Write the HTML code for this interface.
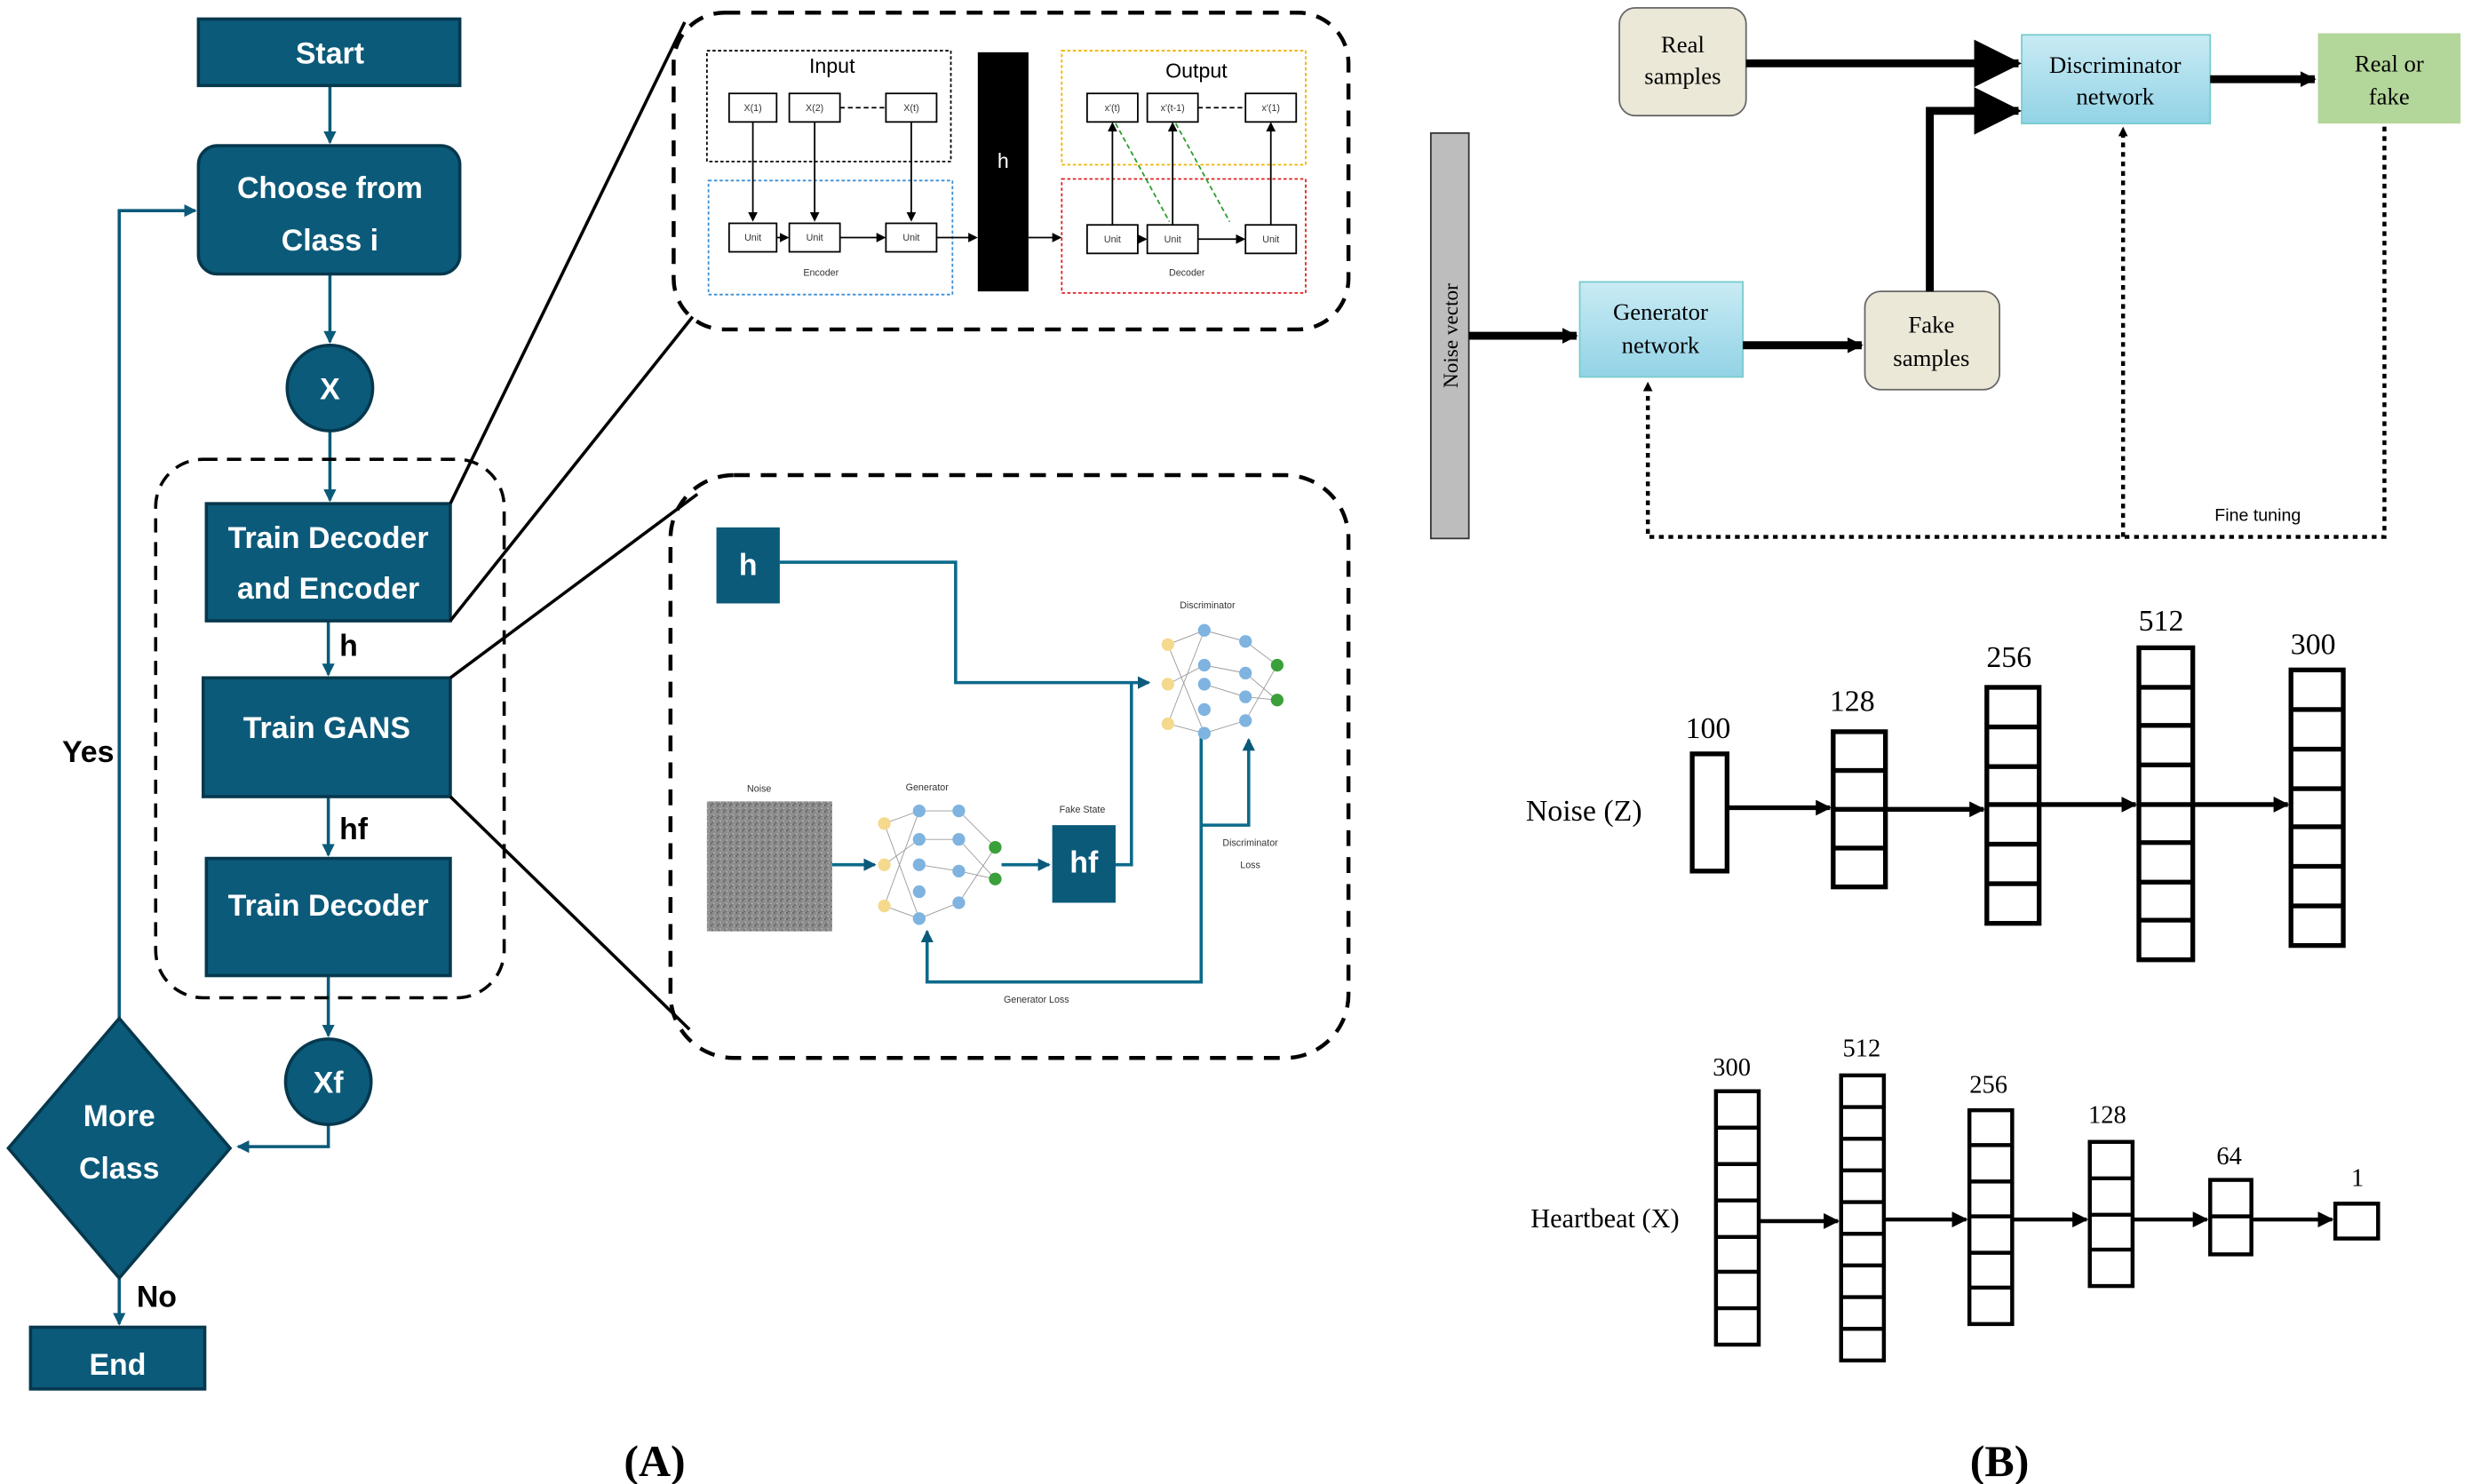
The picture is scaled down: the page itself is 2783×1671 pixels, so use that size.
<!DOCTYPE html>
<html><head><meta charset="utf-8"><style>
html,body{margin:0;padding:0;background:#fff}
svg{display:block}
.ft{font-family:"Liberation Sans",sans-serif;font-weight:bold;fill:#fff;font-size:19px;text-anchor:middle}
.bl{font-family:"Liberation Sans",sans-serif;font-weight:bold;fill:#000;font-size:19px}
.sr{font-family:"Liberation Serif",serif;fill:#000}
.sm{font-family:"Liberation Sans",sans-serif;fill:#333;font-size:6px;text-anchor:middle}
</style></head><body>
<svg width="2783" height="1671" viewBox="0 0 1560 937" xmlns="http://www.w3.org/2000/svg">
<defs>
<marker id="a" markerWidth="8" markerHeight="8" refX="7" refY="4" orient="auto" markerUnits="userSpaceOnUse"><path d="M0,0 L8,4 L0,8 z" fill="#0b5a7a"/></marker>
<marker id="k" markerWidth="10" markerHeight="10" refX="9" refY="5" orient="auto" markerUnits="userSpaceOnUse"><path d="M0,0 L10,5 L0,10 z" fill="#000"/></marker>
<marker id="kb" markerWidth="30" markerHeight="30" refX="28" refY="15" orient="auto" markerUnits="userSpaceOnUse"><path d="M0,0 L30,15 L0,30 z" fill="#000"/></marker>
<marker id="ks" markerWidth="6" markerHeight="6" refX="5" refY="3" orient="auto" markerUnits="userSpaceOnUse"><path d="M0,0 L6,3 L0,6 z" fill="#000"/></marker>
<linearGradient id="lb" x1="0" y1="0" x2="0" y2="1"><stop offset="0" stop-color="#c9ebf4"/><stop offset="1" stop-color="#92d3e6"/></linearGradient>
<pattern id="nz" width="4" height="4" patternUnits="userSpaceOnUse"><rect width="4" height="4" fill="#8c8c8c"/><rect width="1" height="1" fill="#5a5a5a"/><rect x="2" y="2" width="1" height="1" fill="#b0b0b0"/><rect x="3" y="0" width="1" height="1" fill="#a5a5a5"/><rect x="1" y="3" width="1" height="1" fill="#666"/></pattern>
</defs>
<!-- flowchart -->
<g stroke="#0b5a7a" stroke-width="2" fill="none">
<line x1="208" y1="54" x2="208" y2="90" marker-end="url(#a)"/>
<line x1="208" y1="173" x2="208" y2="216" marker-end="url(#a)"/>
<line x1="208" y1="272" x2="208" y2="316" marker-end="url(#a)"/>
<line x1="207" y1="392" x2="207" y2="426" marker-end="url(#a)"/>
<line x1="207" y1="503" x2="207" y2="540" marker-end="url(#a)"/>
<line x1="207" y1="616" x2="207" y2="654" marker-end="url(#a)"/>
<polyline points="207,710 207,724 150,724" marker-end="url(#a)"/>
<polyline points="75,643 75,133 123,133" marker-end="url(#a)"/>
<line x1="75" y1="807" x2="75" y2="836" marker-end="url(#a)"/>
</g>
<rect x="98" y="290" width="220" height="340" rx="30" fill="none" stroke="#000" stroke-width="2" stroke-dasharray="9,6"/>
<g fill="#0b5a7a" stroke="#06384d" stroke-width="2">
<rect x="125" y="12" width="165" height="42"/>
<rect x="125" y="92" width="165" height="81" rx="12"/>
<circle cx="208" cy="245" r="27"/>
<rect x="130" y="318" width="154" height="74"/>
<rect x="128" y="428" width="156" height="75"/>
<rect x="130" y="542" width="154" height="74"/>
<circle cx="207" cy="683" r="27"/>
<polygon points="75,643 145,725 75,807 5,725"/>
<rect x="19" y="838" width="110" height="39"/>
</g>
<text class="ft" x="208" y="40">Start</text>
<text class="ft" x="208" y="125">Choose from</text>
<text class="ft" x="208" y="158">Class i</text>
<text class="ft" x="208" y="252">X</text>
<text class="ft" x="207" y="346">Train Decoder</text>
<text class="ft" x="207" y="378">and Encoder</text>
<text class="ft" x="206" y="466">Train GANS</text>
<text class="ft" x="207" y="578">Train Decoder</text>
<text class="ft" x="207" y="690">Xf</text>
<text class="ft" x="75" y="711">More</text>
<text class="ft" x="75" y="744">Class</text>
<text class="ft" x="74" y="868">End</text>
<text class="bl" x="214" y="414">h</text>
<text class="bl" x="214" y="530">hf</text>
<text class="bl" x="39" y="481">Yes</text>
<text class="bl" x="86" y="825">No</text>
<!-- zoom lines -->
<g stroke="#000" stroke-width="2">
<line x1="284" y1="318" x2="432" y2="14"/>
<line x1="284" y1="392" x2="437" y2="200"/>
<line x1="284" y1="428" x2="440" y2="312"/>
<line x1="284" y1="503" x2="435" y2="650"/>
</g>
<rect x="425" y="8" width="426" height="200" rx="32" fill="none" stroke="#000" stroke-width="2.5" stroke-dasharray="10,7"/>
<rect x="423" y="300" width="428" height="368" rx="40" fill="none" stroke="#000" stroke-width="2.5" stroke-dasharray="10,7"/>
<!-- panel 1 -->
<rect x="446" y="32" width="154" height="70" fill="none" stroke="#000" stroke-dasharray="2,1.5"/>
<rect x="447" y="114" width="154" height="72" fill="none" stroke="#3a8fd6" stroke-dasharray="2,1.5"/>
<rect x="670" y="32" width="154" height="72" fill="none" stroke="#f0b400" stroke-dasharray="2,1.5"/>
<rect x="670" y="113" width="154" height="72" fill="none" stroke="#e02020" stroke-dasharray="2,1.5"/>
<rect x="617" y="33" width="32" height="151" fill="#000"/>
<text x="633" y="106" font-family="Liberation Sans" font-size="13" fill="#fff" text-anchor="middle">h</text>
<text x="525" y="46" font-family="Liberation Sans" font-size="13" text-anchor="middle">Input</text>
<text x="755" y="49" font-family="Liberation Sans" font-size="13" text-anchor="middle">Output</text>
<g fill="#fff" stroke="#000">
<rect x="460" y="59" width="30" height="18"/><rect x="498" y="59" width="32" height="18"/><rect x="559" y="59" width="32" height="18"/>
<rect x="460" y="141" width="30" height="18"/><rect x="498" y="141" width="32" height="18"/><rect x="559" y="141" width="32" height="18"/>
<rect x="686" y="59" width="32" height="18"/><rect x="724" y="59" width="32" height="18"/><rect x="786" y="59" width="32" height="18"/>
<rect x="686" y="142" width="32" height="18"/><rect x="724" y="142" width="32" height="18"/><rect x="786" y="142" width="32" height="18"/>
</g>
<g class="sm"><text x="475" y="70">X(1)</text><text x="514" y="70">X(2)</text><text x="575" y="70">X(t)</text>
<text x="475" y="152">Unit</text><text x="514" y="152">Unit</text><text x="575" y="152">Unit</text>
<text x="702" y="70">x'(t)</text><text x="740" y="70">x'(t-1)</text><text x="802" y="70">x'(1)</text>
<text x="702" y="153">Unit</text><text x="740" y="153">Unit</text><text x="802" y="153">Unit</text>
<text x="518" y="174">Encoder</text><text x="749" y="174">Decoder</text></g>
<g stroke="#000" stroke-width="1" fill="none">
<line x1="475" y1="77" x2="475" y2="139" marker-end="url(#ks)"/><line x1="514" y1="77" x2="514" y2="139" marker-end="url(#ks)"/><line x1="575" y1="77" x2="575" y2="139" marker-end="url(#ks)"/>
<line x1="490" y1="150" x2="497" y2="150" marker-end="url(#ks)"/><line x1="530" y1="150" x2="558" y2="150" marker-end="url(#ks)"/>
<line x1="591" y1="150" x2="616" y2="150" marker-end="url(#ks)"/><line x1="649" y1="150" x2="669" y2="150" marker-end="url(#ks)"/>
<line x1="718" y1="151" x2="723" y2="151" marker-end="url(#ks)"/><line x1="756" y1="151" x2="785" y2="151" marker-end="url(#ks)"/>
<line x1="702" y1="142" x2="702" y2="78" marker-end="url(#ks)"/><line x1="740" y1="142" x2="740" y2="78" marker-end="url(#ks)"/><line x1="802" y1="142" x2="802" y2="78" marker-end="url(#ks)"/>
<line x1="530" y1="68" x2="558" y2="68" stroke-dasharray="3,2"/><line x1="756" y1="68" x2="785" y2="68" stroke-dasharray="3,2"/>
<line x1="704" y1="78" x2="738" y2="140" stroke="#2a9d2a" stroke-dasharray="3,2"/><line x1="742" y1="78" x2="776" y2="140" stroke="#2a9d2a" stroke-dasharray="3,2"/>
</g>
<!-- panel 2 -->
<rect x="452" y="333" width="40" height="48" fill="#0b5a7a"/><text class="ft" x="472" y="363">h</text>
<rect x="664" y="521" width="40" height="49" fill="#0b5a7a"/><text class="ft" x="684" y="551">hf</text>
<rect x="446" y="506" width="79" height="82" fill="url(#nz)"/>
<g class="sm"><text x="479" y="500">Noise</text><text x="585" y="499">Generator</text><text x="683" y="513">Fake State</text><text x="762" y="384">Discriminator</text><text x="789" y="534">Discriminator</text><text x="789" y="548">Loss</text><text x="654" y="633">Generator Loss</text></g>
<g stroke="#0b6a8a" stroke-width="2" fill="none">
<polyline points="492,355 603,355 603,431 725,431" marker-end="url(#a)"/>
<line x1="525" y1="546" x2="552" y2="546" marker-end="url(#a)"/>
<line x1="632" y1="546" x2="662" y2="546" marker-end="url(#a)"/>
<polyline points="704,546 714,546 714,431"/>
<polyline points="758,460 758,620 585,620 585,588" marker-end="url(#a)"/>
<polyline points="758,521 788,521 788,467" marker-end="url(#a)"/>
</g>
<g stroke="#999" stroke-width="0.5" fill="none">
<path d="M558,520 L580,512 L605,512 L628,535 M558,546 L580,530 L605,530 L628,555 M558,572 L580,580 L605,570 L628,535 M558,520 L580,580 M558,572 L580,512 M580,546 L605,550 L628,555"/>
<path d="M737,407 L760,398 L786,405 L806,420 M737,432 L760,420 L786,425 L806,442 M737,457 L760,463 L786,455 L806,420 M737,407 L760,463 M737,457 L760,398 M760,432 L786,440 L806,442"/>
</g>
<g fill="#f5d98c"><circle cx="558" cy="520" r="4"/><circle cx="558" cy="546" r="4"/><circle cx="558" cy="572" r="4"/><circle cx="737" cy="407" r="4"/><circle cx="737" cy="432" r="4"/><circle cx="737" cy="457" r="4"/></g>
<g fill="#7fb3e0"><circle cx="580" cy="512" r="4"/><circle cx="580" cy="530" r="4"/><circle cx="580" cy="546" r="4"/><circle cx="580" cy="563" r="4"/><circle cx="580" cy="580" r="4"/><circle cx="605" cy="512" r="4"/><circle cx="605" cy="530" r="4"/><circle cx="605" cy="550" r="4"/><circle cx="605" cy="570" r="4"/>
<circle cx="760" cy="398" r="4"/><circle cx="760" cy="420" r="4"/><circle cx="760" cy="432" r="4"/><circle cx="760" cy="448" r="4"/><circle cx="760" cy="463" r="4"/><circle cx="786" cy="405" r="4"/><circle cx="786" cy="425" r="4"/><circle cx="786" cy="440" r="4"/><circle cx="786" cy="455" r="4"/></g>
<g fill="#3aa03a"><circle cx="628" cy="535" r="4"/><circle cx="628" cy="555" r="4"/><circle cx="806" cy="420" r="4"/><circle cx="806" cy="442" r="4"/></g>
<!-- B top -->
<rect x="903" y="84" width="24" height="256" fill="#bdbdbd" stroke="#333"/>
<text class="sr" font-size="13" transform="translate(920,212) rotate(-90)" text-anchor="middle">Noise vector</text>
<rect x="1022" y="5" width="80" height="68" rx="10" fill="#ebe8d8" stroke="#666"/>
<text class="sr" font-size="15" x="1062" y="33" text-anchor="middle">Real</text><text class="sr" font-size="15" x="1062" y="53" text-anchor="middle">samples</text>
<rect x="1276" y="22" width="119" height="56" fill="url(#lb)" stroke="#7cc"/>
<text class="sr" font-size="15" x="1335" y="46" text-anchor="middle">Discriminator</text><text class="sr" font-size="15" x="1335" y="66" text-anchor="middle">network</text>
<rect x="1463" y="21" width="90" height="57" fill="#b3d69a"/>
<text class="sr" font-size="15" x="1508" y="45" text-anchor="middle">Real or</text><text class="sr" font-size="15" x="1508" y="66" text-anchor="middle">fake</text>
<rect x="997" y="178" width="103" height="60" fill="url(#lb)" stroke="#7cc"/>
<text class="sr" font-size="15" x="1048" y="202" text-anchor="middle">Generator</text><text class="sr" font-size="15" x="1048" y="223" text-anchor="middle">network</text>
<rect x="1177" y="184" width="85" height="62" rx="10" fill="#ebe8d8" stroke="#666"/>
<text class="sr" font-size="15" x="1219" y="210" text-anchor="middle">Fake</text><text class="sr" font-size="15" x="1219" y="231" text-anchor="middle">samples</text>
<g stroke="#000" stroke-width="5" fill="none">
<line x1="1102" y1="40" x2="1274" y2="40" marker-end="url(#kb)"/>
<polyline points="1218,184 1218,70 1274,70" marker-end="url(#kb)"/>
<line x1="927" y1="212" x2="995" y2="212" marker-end="url(#k)"/>
<line x1="1100" y1="218" x2="1175" y2="218" marker-end="url(#k)"/>
<line x1="1395" y1="50" x2="1461" y2="50" marker-end="url(#k)"/>
</g>
<g stroke="#000" stroke-width="2.5" fill="none" stroke-dasharray="3,3">
<polyline points="1505,80 1505,339 1040,339 1040,242" marker-end="url(#ks)"/>
<line x1="1340" y1="339" x2="1340" y2="81" marker-end="url(#ks)"/>
</g>
<text x="1425" y="329" font-family="Liberation Sans" font-size="11" text-anchor="middle">Fine tuning</text>
<!-- Noise net -->
<text class="sr" font-size="19" x="963" y="518">Noise (Z)</text>
<g fill="none" stroke="#000" stroke-width="3">
<rect x="1068" y="476" width="22" height="74"/>
<rect x="1157" y="462" width="33" height="98"/><path d="M1157,486.5H1190M1157,511H1190M1157,535.5H1190"/>
<rect x="1254" y="434" width="33" height="149"/><path d="M1254,459H1287M1254,484H1287M1254,508H1287M1254,533H1287M1254,558H1287"/>
<rect x="1350" y="409" width="34" height="197"/><path d="M1350,434H1384M1350,458H1384M1350,483H1384M1350,508H1384M1350,532H1384M1350,557H1384M1350,581H1384"/>
<rect x="1446" y="423" width="33" height="174"/><path d="M1446,448H1479M1446,473H1479M1446,498H1479M1446,522H1479M1446,547H1479M1446,572H1479"/>
<line x1="1090" y1="510" x2="1155" y2="510" marker-end="url(#k)"/>
<line x1="1190" y1="511" x2="1252" y2="511" marker-end="url(#k)"/>
<line x1="1287" y1="508" x2="1348" y2="508" marker-end="url(#k)"/>
<line x1="1384" y1="508" x2="1444" y2="508" marker-end="url(#k)"/>
</g>
<g class="sr" font-size="19" text-anchor="middle"><text x="1078" y="466">100</text><text x="1169" y="449">128</text><text x="1268" y="421">256</text><text x="1364" y="398">512</text><text x="1460" y="413">300</text></g>
<!-- Heartbeat net -->
<text class="sr" font-size="17" x="966" y="775">Heartbeat (X)</text>
<g fill="none" stroke="#000" stroke-width="2.5">
<rect x="1083" y="689" width="27" height="160"/><path d="M1083,712H1110M1083,735H1110M1083,758H1110M1083,781H1110M1083,803H1110M1083,826H1110"/>
<rect x="1162" y="679" width="27" height="180"/><path d="M1162,699H1189M1162,719H1189M1162,739H1189M1162,759H1189M1162,779H1189M1162,799H1189M1162,819H1189M1162,839H1189"/>
<rect x="1243" y="701" width="27" height="135"/><path d="M1243,723H1270M1243,746H1270M1243,768H1270M1243,791H1270M1243,813H1270"/>
<rect x="1319" y="721" width="27" height="91"/><path d="M1319,744H1346M1319,767H1346M1319,789H1346"/>
<rect x="1395" y="745" width="26" height="47"/><path d="M1395,768H1421"/>
<rect x="1474" y="760" width="27" height="22"/>
<line x1="1110" y1="771" x2="1160" y2="771" marker-end="url(#k)"/>
<line x1="1189" y1="770" x2="1241" y2="770" marker-end="url(#k)"/>
<line x1="1270" y1="770" x2="1317" y2="770" marker-end="url(#k)"/>
<line x1="1346" y1="770" x2="1393" y2="770" marker-end="url(#k)"/>
<line x1="1421" y1="770" x2="1472" y2="770" marker-end="url(#k)"/>
</g>
<g class="sr" font-size="16" text-anchor="middle"><text x="1093" y="679">300</text><text x="1175" y="667">512</text><text x="1255" y="690">256</text><text x="1330" y="709">128</text><text x="1407" y="735">64</text><text x="1488" y="749">1</text></g>
<text class="sr" font-size="28" font-weight="bold" x="413" y="932" text-anchor="middle">(A)</text>
<text class="sr" font-size="28" font-weight="bold" x="1262" y="932" text-anchor="middle">(B)</text>
</svg>
</body></html>
